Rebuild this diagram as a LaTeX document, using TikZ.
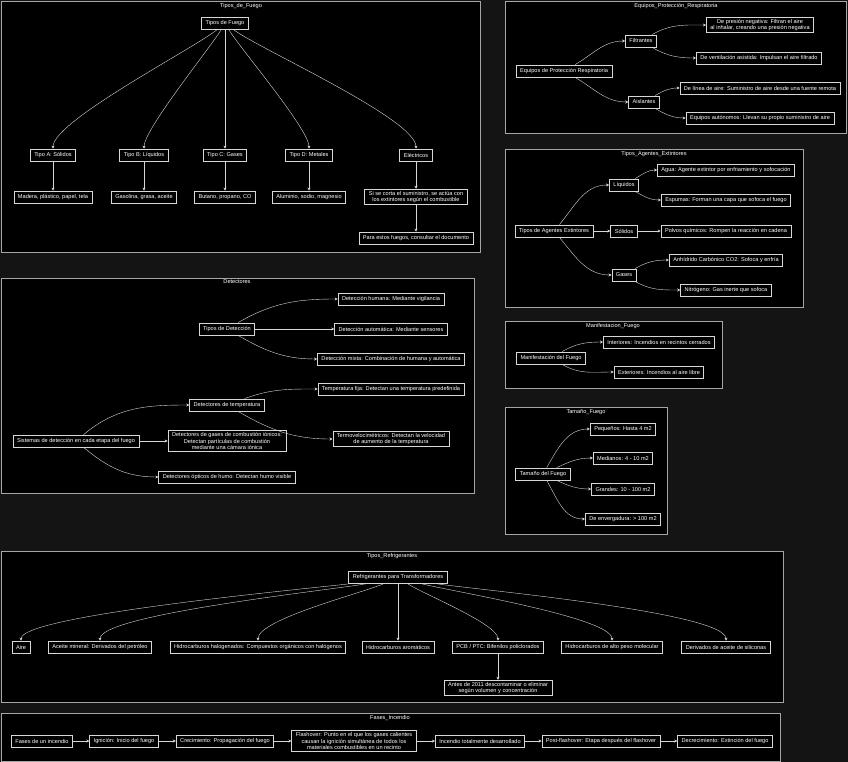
\documentclass[tikz,border=0pt]{standalone}
\usepackage{fontspec}
\setmainfont{Liberation Sans}
\usepackage{xcolor}
\usepackage{tikz}
\usetikzlibrary{arrows.meta, positioning}
\definecolor{canvasgray}{RGB}{20, 20, 20}
\definecolor{edgegray}{RGB}{215, 215, 215}
\definecolor{framegray}{RGB}{165, 165, 165}

\begin{document}
\begin{tikzpicture}[
    x=1pt, y=-1pt,
    box/.style={rectangle, draw=edgegray, fill=black, line width=0.8pt, text=white, align=center, font=\fontsize{5.6}{6.4}\selectfont, inner xsep=4pt, inner ysep=2pt, minimum height=12pt},
    cluster/.style={draw=framegray, fill=black, line width=0.8pt},
    title/.style={text=white, font=\fontsize{5.6}{6.4}\selectfont, inner sep=1pt},
    edge/.style={-{Stealth[length=3pt, width=3pt]}, edgegray, line width=0.4pt}
]
% Canvas
\fill[canvasgray] (0,0) rectangle (848,762);

% Clusters
\draw[cluster] (1,1) rectangle (480,252);
\draw[cluster] (505,1) rectangle (846,133);
\draw[cluster] (505,149) rectangle (803,307);
\draw[cluster] (1,278) rectangle (474,493);
\draw[cluster] (505,321) rectangle (722,388);
\draw[cluster] (505,407) rectangle (667,534);
\draw[cluster] (1,551) rectangle (783,702);
\draw[cluster] (1,713) rectangle (780,761);

% Tipos de fuego
\node[title] (tfuego) at (241,6) {Tipos\_de\_Fuego};
\node[box] (tiposfuego) at (225,23) {Tipos de Fuego};
\node[box] (tipoa) at (53,155) {Tipo A: Sólidos};
\node[box] (tipob) at (144,155) {Tipo B: Líquidos};
\node[box] (tipoc) at (225,155) {Tipo C: Gases};
\node[box] (tipod) at (309,155) {Tipo D: Metales};
\node[box] (electricos) at (416,155) {Eléctricos};
\node[box] (mata) at (53,197) {Madera, plástico, papel, tela};
\node[box] (matb) at (144,197) {Gasolina, grasa, aceite};
\node[box] (matc) at (225,197) {Butano, propano, CO};
\node[box] (matd) at (309,197) {Aluminio, sodio, magnesio};
\node[box] (eleccorte) at (416,197) {Si se corta el suministro, se actúa con\\los extintores según el combustible};
\node[box] (elecdoc) at (416,238) {Para estos fuegos, consultar el documento};

\draw[edge] (tiposfuego) to[out=-140, in=90, looseness=0.35] (tipoa);
\draw[edge] (tiposfuego) to[out=-120, in=90, looseness=0.35] (tipob);
\draw[edge] (tiposfuego) -- (tipoc);
\draw[edge] (tiposfuego) to[out=-60, in=90, looseness=0.35] (tipod);
\draw[edge] (tiposfuego) to[out=-38, in=90, looseness=0.35] (electricos);
\draw[edge] (tipoa) -- (mata);
\draw[edge] (tipob) -- (matb);
\draw[edge] (tipoc) -- (matc);
\draw[edge] (tipod) -- (matd);
\draw[edge] (electricos) -- (eleccorte);
\draw[edge] (eleccorte) -- (elecdoc);

% Equipos de proteccion respiratoria
\node[title] (tequipos) at (676,6) {Equipos\_Protección\_Respiratoria};
\node[box] (epr) at (564,71) {Equipos de Protección Respiratoria};
\node[box] (filtrantes) at (641,41) {Filtrantes};
\node[box] (aislantes) at (644,102) {Aislantes};
\node[box] (presionneg) at (760,25) {De presión negativa: Filtran el aire\\al inhalar, creando una presión negativa};
\node[box] (ventasist) at (759,58) {De ventilación asistida: Impulsan el aire filtrado};
\node[box] (lineaaire) at (760,88) {De línea de aire: Suministro de aire desde una fuente remota};
\node[box] (autonomos) at (760,118) {Equipos autónomos: Llevan su propio suministro de aire};

\draw[edge] (epr) to[out=30, in=180] (filtrantes);
\draw[edge] (epr) to[out=-30, in=180] (aislantes);
\draw[edge] (filtrantes) to[out=30, in=180] (presionneg);
\draw[edge] (filtrantes) to[out=-30, in=180] (ventasist);
\draw[edge] (aislantes) to[out=30, in=180] (lineaaire);
\draw[edge] (aislantes) to[out=-30, in=180] (autonomos);

% Tipos de agentes extintores
\node[title] (tagentes) at (654,154) {Tipos\_Agentes\_Extintores};
\node[box] (tae) at (554,231) {Tipos de Agentes Extintores};
\node[box] (liquidos) at (624,185) {Líquidos};
\node[box] (solidos) at (624,231) {Sólidos};
\node[box] (gasesag) at (624,275) {Gases};
\node[box] (agua) at (726,170) {Agua: Agente extintor por enfriamiento y sofocación};
\node[box] (espumas) at (726,200) {Espumas: Forman una capa que sofoca el fuego};
\node[box] (polvos) at (726,231) {Polvos químicos: Rompen la reacción en cadena};
\node[box] (co2) at (726,260) {Anhídrido Carbónico CO2: Sofoca y enfría};
\node[box] (nitrogeno) at (726,290) {Nitrógeno: Gas inerte que sofoca};

\draw[edge] (tae) to[out=50, in=180] (liquidos);
\draw[edge] (tae) -- (solidos);
\draw[edge] (tae) to[out=-50, in=180] (gasesag);
\draw[edge] (liquidos) to[out=30, in=180] (agua);
\draw[edge] (liquidos) to[out=-30, in=180] (espumas);
\draw[edge] (solidos) -- (polvos);
\draw[edge] (gasesag) to[out=30, in=180] (co2);
\draw[edge] (gasesag) to[out=-30, in=180] (nitrogeno);

% Detectores
\node[title] (tdetectores) at (237,282) {Detectores};
\node[box] (tiposdet) at (227,329) {Tipos de Detección};
\node[box] (humana) at (391,299) {Detección humana: Mediante vigilancia};
\node[box] (automatica) at (391,329) {Detección automática: Mediante sensores};
\node[box] (mixta) at (391,359) {Detección mixta: Combinación de humana y automática};
\node[box] (sistemas) at (76,441) {Sistemas de detección en cada etapa del fuego};
\node[box] (dettemp) at (227,405) {Detectores de temperatura};
\node[box] (tempfija) at (391,389) {Temperatura fija: Detectan una temperatura predefinida};
\node[box] (termovel) at (391,439) {Termovelocimétricos: Detectan la velocidad\\de aumento de la temperatura};
\node[box] (gasesdet) at (227,441) {Detectores de gases de combustión iónicos:\\Detectan partículas de combustión\\mediante una cámara iónica};
\node[box] (opticos) at (227,477) {Detectores ópticos de humo: Detectan humo visible};

\draw[edge] (tiposdet) to[out=30, in=180] (humana);
\draw[edge] (tiposdet) -- (automatica);
\draw[edge] (tiposdet) to[out=-30, in=180] (mixta);
\draw[edge] (sistemas) to[out=40, in=180] (dettemp);
\draw[edge] (sistemas) -- (gasesdet);
\draw[edge] (sistemas) to[out=-40, in=180] (opticos);
\draw[edge] (dettemp) to[out=20, in=180] (tempfija);
\draw[edge] (dettemp) to[out=-30, in=180] (termovel);

% Manifestacion del fuego
\node[title] (tmanif) at (613,326) {Manifestacion\_Fuego};
\node[box] (manif) at (551,358) {Manifestación del Fuego};
\node[box] (interiores) at (659,342) {Interiores: Incendios en recintos cerrados};
\node[box] (exteriores) at (659,372) {Exteriores: Incendios al aire libre};

\draw[edge] (manif) to[out=30, in=180] (interiores);
\draw[edge] (manif) to[out=-30, in=180] (exteriores);

% Tamano del fuego
\node[title] (ttamano) at (586,412) {Tamaño\_Fuego};
\node[box] (tamano) at (543,474) {Tamaño del Fuego};
\node[box] (pequenos) at (623,429) {Pequeños: Hasta 4 m2};
\node[box] (medianos) at (623,458) {Medianos: 4 - 10 m2};
\node[box] (grandes) at (623,489) {Grandes: 10 - 100 m2};
\node[box] (envergadura) at (623,519) {De envergadura: > 100 m2};

\draw[edge] (tamano) to[out=60, in=180] (pequenos);
\draw[edge] (tamano) to[out=25, in=180] (medianos);
\draw[edge] (tamano) to[out=-25, in=180] (grandes);
\draw[edge] (tamano) to[out=-60, in=180] (envergadura);

% Refrigerantes
\node[title] (trefri) at (392,556) {Tipos\_Refrigerantes};
\node[box] (refri) at (398,577) {Refrigerantes para Transformadores};
\node[box] (aire) at (21,647) {Aire};
\node[box] (aceitemin) at (100,647) {Aceite mineral: Derivados del petróleo};
\node[box] (hidrohalo) at (258,647) {Hidrocarburos halogenados: Compuestos orgánicos con halógenos};
\node[box] (aromaticos) at (398,647) {Hidrocarburos aromáticos};
\node[box] (pcb) at (498,647) {PCB / PTC: Bifenilos policlorados};
\node[box] (altopeso) at (612,647) {Hidrocarburos de alto peso molecular};
\node[box] (siliconas) at (726,647) {Derivados de aceite de siliconas};
\node[box] (pcbnota) at (498,688) {Antes de 2011 descontaminar o eliminar\\según volumen y concentración};

\draw[edge] (refri) to[out=-172, in=90, looseness=0.2] (aire);
\draw[edge] (refri) to[out=-168, in=90, looseness=0.25] (aceitemin);
\draw[edge] (refri) to[out=-155, in=90, looseness=0.4] (hidrohalo);
\draw[edge] (refri) -- (aromaticos);
\draw[edge] (refri) to[out=-35, in=90, looseness=0.4] (pcb);
\draw[edge] (refri) to[out=-16, in=90, looseness=0.3] (altopeso);
\draw[edge] (refri) to[out=-10, in=90, looseness=0.25] (siliconas);
\draw[edge] (pcb) -- (pcbnota);

% Fases de un incendio
\node[title] (tfases) at (390,718) {Fases\_Incendio};
\node[box] (fase1) at (42,741) {Fases de un incendio};
\node[box] (fase2) at (124,741) {Ignición: Inicio del fuego};
\node[box] (fase3) at (225,741) {Crecimiento: Propagación del fuego};
\node[box] (fase4) at (354,741) {Flashover: Punto en el que los gases calientes\\causan la ignición simultánea de todos los\\materiales combustibles en un recinto};
\node[box] (fase5) at (480,741) {Incendio totalmente desarrollado};
\node[box] (fase6) at (601,741) {Post-flashover: Etapa después del flashover};
\node[box] (fase7) at (725,741) {Decrecimiento: Extinción del fuego};

\draw[edge] (fase1) -- (fase2);
\draw[edge] (fase2) -- (fase3);
\draw[edge] (fase3) -- (fase4);
\draw[edge] (fase4) -- (fase5);
\draw[edge] (fase5) -- (fase6);
\draw[edge] (fase6) -- (fase7);
\end{tikzpicture}
\end{document}
